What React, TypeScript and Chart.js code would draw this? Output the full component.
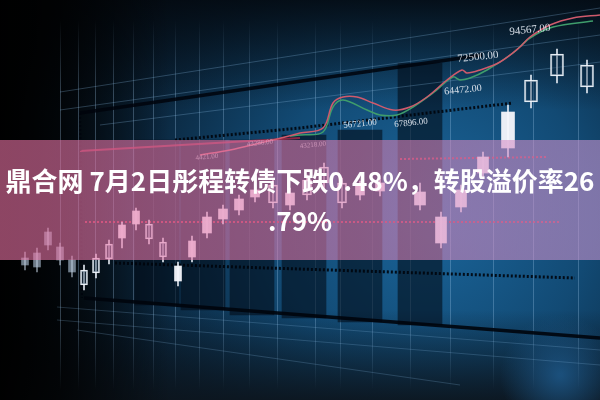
import React, { useEffect, useRef } from "react";
import { Chart, registerables } from "chart.js";

Chart.register(...registerables);

// ---- Title ----
const titleLines = ["鼎合网 7月2日彤程转债下跌0.48%，转股溢价率26", ".79%"];

// ---- Candles (horizontal position, open, close, high, low; level units, 0 = bottom) ----
const candleX = [25, 37, 48, 60, 72, 84, 96, 109, 122, 136, 149, 163, 178, 192, 207, 223, 239, 255, 273, 290, 307, 324, 342, 360, 380, 420, 441, 461, 483, 508, 531, 557, 587];
const candleOpen = [142, 147, 168, 153, 140, 115, 127, 141, 175, 189, 161, 143, 134, 159, 183, 191, 201, 210, 197, 207, 205, 217, 197, 215, 217, 208, 183, 210, 243, 288, 298, 324, 313];
const candleClose = [135, 133, 155, 140, 128, 130, 142, 156, 162, 176, 176, 158, 119, 143, 167, 181, 190, 203, 215, 195, 220, 233, 217, 205, 209, 195, 157, 193, 227, 252, 320, 346, 335];
const candleHigh = [148, 152, 172, 157, 144, 135, 146, 160, 178, 192, 180, 162, 138, 164, 188, 195, 205, 214, 220, 212, 225, 237, 222, 219, 222, 217, 188, 215, 248, 295, 325, 351, 340];
const candleLow = [130, 128, 150, 135, 123, 110, 122, 136, 152, 170, 156, 138, 114, 138, 162, 176, 185, 198, 192, 190, 200, 210, 192, 200, 204, 190, 152, 188, 222, 243, 292, 317, 307];

// ---- Moving-average lines ----
const redLineX = [200, 230, 260, 285, 300, 323, 333, 343, 357, 373, 393, 410, 427, 447, 462, 467, 480, 500, 520, 530, 550, 573, 600];
const redLineY = [245, 250, 257, 263, 267, 272, 297, 303, 303, 297, 290, 293, 303, 320, 330, 327, 330, 338, 353, 363, 375, 382, 385];
const greenLineX = [290, 300, 323, 333, 343, 367, 380, 397, 413, 433, 453, 460, 470, 487, 513, 530, 553, 593];
const greenLineY = [264, 265, 268, 293, 300, 290, 285, 285, 293, 307, 323, 320, 322, 330, 347, 362, 373, 379];

// ---- Price labels ----
const labelText = ["94567.00", "72500.00", "64472.00", "56721.00", "67896.00", "43218.00", "43286.00", "4421.00"];
const labelX = [530, 478, 463, 360, 411, 313, 260, 207];
const labelY = [370, 343, 310, 276, 277, 255, 257, 243];

// ---- Background structure ----
const gridX = [60, 78, 95, 113, 133, 153, 175, 199, 223, 249, 277, 315, 340, 372, 410, 450, 493, 533, 578];
const columnX = [157, 203, 252, 304, 360, 420];
const columnTop = [260, 260, 260, 265, 270, 337];
const columnBottom = [95, 90, 85, 82, 78, 75];

const shadowA_X = [80, 482];
const shadowA_Y = [287, 345];
const shadowB_X = [84, 600];
const shadowB_Y = [102, 62];
const shadowC_X = [80, 82];
const shadowC_Y = [287, 102];
const dotDarkA_X = [175, 300, 513];
const dotDarkA_Y = [260, 272, 297];
const dotDarkB_X = [115, 575];
const dotDarkB_Y = [137, 122];
const redDotA_X = [400, 547];
const redDotA_Y = [241, 243];
const redDotB_X = [85, 560];
const redDotB_Y = [178, 178];
const redSolid_X = [80, 300];
const redSolid_Y = [249, 262];
const perspUpper = [
  { x: [60, 600], y: [308, 392] },
  { x: [60, 600], y: [290, 365] },
  { x: [100, 600], y: [275, 338] },
];
const perspLower = [
  { x: [57, 600], y: [93, 50] },
  { x: [57, 600], y: [80, 35] },
  { x: [77, 460], y: [70, 15] },
];

const pts = (xs: number[], ys: number[]) => xs.map((x, i) => ({ x, y: ys[i] }));

function bodyWidth(x: number) {
  if (x < 200) return 7;
  if (x < 400) return 9;
  if (x < 500) return 11;
  return 13;
}

function buildDatasets() {
  const ds: any[] = [];
  // dark columns
  ds.push({
    type: "bar",
    data: columnX.map((x, i) => ({ x, y: [columnBottom[i], columnTop[i]] })),
    backgroundColor: "rgba(2,12,24,0.6)",
    barThickness: 44,
    grouped: false,
    order: 20,
  });
  const line = (x: number[], y: number[], color: string, w: number, dash: number[] = [], order = 15) => ({
    type: "line",
    data: pts(x, y),
    borderColor: color,
    borderWidth: w,
    borderDash: dash,
    pointRadius: 0,
    tension: 0,
    fill: false,
    order,
  });
  perspUpper.forEach((l) => ds.push(line(l.x, l.y, "rgba(140,190,230,0.28)", 1, [], 18)));
  perspLower.forEach((l) => ds.push(line(l.x, l.y, "rgba(140,190,230,0.22)", 1, [], 18)));
  ds.push(line(shadowA_X, shadowA_Y, "rgba(0,4,12,0.85)", 3.5));
  ds.push(line(shadowB_X, shadowB_Y, "rgba(0,4,12,0.9)", 3.5));
  ds.push(line(shadowC_X, shadowC_Y, "rgba(0,4,12,0.8)", 2, [2, 2]));
  ds.push(line(dotDarkA_X, dotDarkA_Y, "rgba(0,4,12,0.9)", 3, [2, 2]));
  ds.push(line(dotDarkB_X, dotDarkB_Y, "rgba(0,4,12,0.9)", 3, [2, 2]));
  ds.push(line(redDotA_X, redDotA_Y, "rgba(190,40,70,0.9)", 2, [2, 2]));
  ds.push(line(redDotB_X, redDotB_Y, "rgba(190,40,70,0.9)", 2, [2, 2]));
  ds.push(line(redSolid_X, redSolid_Y, "rgba(170,40,70,0.8)", 2));
  // MA lines
  ds.push({ ...line(greenLineX, greenLineY, "#3f9d6c", 1.5, [], 6), tension: 0.35 });
  ds.push({ ...line(redLineX, redLineY, "#cf5a6c", 1.5, [], 5), tension: 0.35 });
  // candles
  const widths = Array.from(new Set(candleX.map(bodyWidth)));
  ds.push({
    type: "bar",
    data: candleX.map((x, i) => ({ x, y: [candleLow[i], candleHigh[i]] })),
    backgroundColor: candleX.map((x) => (x < 80 ? "rgba(200,215,230,0.55)" : "rgba(235,240,248,0.85)")),
    barThickness: 1.2,
    grouped: false,
    order: 3,
  });
  widths.forEach((w) => {
    const idx = candleX.map((x, i) => i).filter((i) => bodyWidth(candleX[i]) === w);
    const down = idx.filter((i) => candleClose[i] < candleOpen[i]);
    const up = idx.filter((i) => candleClose[i] >= candleOpen[i]);
    ds.push({
      type: "bar",
      data: down.map((i) => ({ x: candleX[i], y: [candleClose[i], candleOpen[i]] })),
      backgroundColor: down.map((i) => (candleX[i] < 80 ? "rgba(185,205,225,0.6)" : "rgba(245,247,252,0.95)")),
      barThickness: w,
      grouped: false,
      order: 2,
    });
    ds.push({
      type: "bar",
      data: up.map((i) => ({ x: candleX[i], y: [candleOpen[i], candleClose[i]] })),
      backgroundColor: "rgba(10,40,70,0.35)",
      borderColor: "rgba(240,245,252,0.95)",
      borderWidth: 1.3,
      borderSkipped: false,
      barThickness: w,
      grouped: false,
      order: 1,
    });
  });
  return ds;
}

const bgPlugin = {
  id: "bgPlugin",
  beforeDraw(chart: any) {
    const { ctx, width, height } = chart;
    ctx.save();
    const g = ctx.createRadialGradient(430, 215, 10, 430, 215, 440);
    g.addColorStop(0, "#1a6499");
    g.addColorStop(0.35, "#124a74");
    g.addColorStop(0.65, "#0b2840");
    g.addColorStop(1, "#04090f");
    ctx.fillStyle = g;
    ctx.fillRect(0, 0, width, height);
    const top = ctx.createLinearGradient(0, 0, 0, 110);
    top.addColorStop(0, "rgba(3,8,14,0.85)");
    top.addColorStop(1, "rgba(3,8,14,0)");
    ctx.fillStyle = top;
    ctx.fillRect(0, 0, width, 110);
    const bot = ctx.createLinearGradient(0, 310, 0, 400);
    bot.addColorStop(0, "rgba(8,16,24,0)");
    bot.addColorStop(1, "rgba(12,20,28,0.9)");
    ctx.fillStyle = bot;
    ctx.fillRect(0, 310, width, 90);
    const left = ctx.createLinearGradient(0, 0, 170, 0);
    left.addColorStop(0, "rgba(0,0,0,0.97)");
    left.addColorStop(0.35, "rgba(0,0,0,0.75)");
    left.addColorStop(1, "rgba(0,0,0,0)");
    ctx.fillStyle = left;
    ctx.fillRect(0, 0, 170, height);
    const blob = ctx.createRadialGradient(560, 375, 2, 560, 375, 60);
    blob.addColorStop(0, "rgba(30,90,140,0.8)");
    blob.addColorStop(1, "rgba(30,90,140,0)");
    ctx.fillStyle = blob;
    ctx.fillRect(480, 300, 120, 100);
    // vertical grid lines
    const xs = chart.scales.x;
    const vg = ctx.createLinearGradient(0, 20, 0, 390);
    vg.addColorStop(0, "rgba(160,200,235,0)");
    vg.addColorStop(0.2, "rgba(160,200,235,0.3)");
    vg.addColorStop(0.8, "rgba(160,200,235,0.3)");
    vg.addColorStop(1, "rgba(160,200,235,0)");
    ctx.strokeStyle = vg;
    ctx.lineWidth = 1;
    gridX.forEach((v) => {
      const px = Math.round(xs.getPixelForValue(v)) + 0.5;
      ctx.beginPath();
      ctx.moveTo(px, 20);
      ctx.lineTo(px, 390);
      ctx.stroke();
    });
    ctx.restore();
  },
  afterDatasetsDraw(chart: any) {
    const { ctx, width } = chart;
    const xs = chart.scales.x;
    const ys = chart.scales.y;
    ctx.save();
    // price labels
    ctx.fillStyle = "#dfe6ee";
    ctx.textAlign = "center";
    ctx.textBaseline = "middle";
    labelText.forEach((t, i) => {
      const px = xs.getPixelForValue(labelX[i]);
      const py = ys.getPixelForValue(labelY[i]);
      const size = labelY[i] > 330 ? 11 : labelY[i] > 300 ? 10 : labelY[i] > 265 ? 9 : 7;
      ctx.save();
      ctx.translate(px, py);
      ctx.rotate(-0.1);
      ctx.font = `${size}px "Liberation Serif"`;
      ctx.globalAlpha = labelY[i] > 265 ? 0.95 : 0.7;
      ctx.fillText(t, 0, 0);
      ctx.restore();
    });
    // pink band
    const bandTop = 140;
    const bandBottom = 260;
    const bg = ctx.createLinearGradient(0, 0, width, 0);
    bg.addColorStop(0, "rgba(235,115,165,0.6)");
    bg.addColorStop(0.6, "rgba(225,125,178,0.58)");
    bg.addColorStop(1, "rgba(205,150,210,0.58)");
    ctx.fillStyle = bg;
    ctx.fillRect(0, bandTop, width, bandBottom - bandTop);
    // title
    ctx.fillStyle = "#ffffff";
    ctx.font = `bold 26px "Noto Sans CJK SC"`;
    ctx.textAlign = "center";
    ctx.textBaseline = "middle";
    ctx.fillText(titleLines[0], 300, 181);
    ctx.fillText(titleLines[1], 300, 221);
    ctx.restore();
  },
};

export default function App() {
  const ref = useRef<HTMLCanvasElement | null>(null);
  useEffect(() => {
    document.body.style.margin = "0";
    if (!ref.current) return;
    const chart = new Chart(ref.current, {
      type: "bar",
      data: { datasets: buildDatasets() },
      options: {
        animation: false,
        responsive: false,
        maintainAspectRatio: false,
        layout: { padding: 0 },
        plugins: { legend: { display: false }, tooltip: { enabled: false }, title: { display: false } },
        scales: {
          x: { type: "linear", min: 0, max: 600, offset: false, display: false },
          y: { type: "linear", min: 0, max: 400, display: false },
        },
      },
      plugins: [bgPlugin],
    } as any);
    return () => chart.destroy();
  }, []);
  return (
    <div style={{ width: 600, height: 400 }}>
      <canvas ref={ref} width={600} height={400} style={{ width: 600, height: 400, display: "block" }} />
    </div>
  );
}
